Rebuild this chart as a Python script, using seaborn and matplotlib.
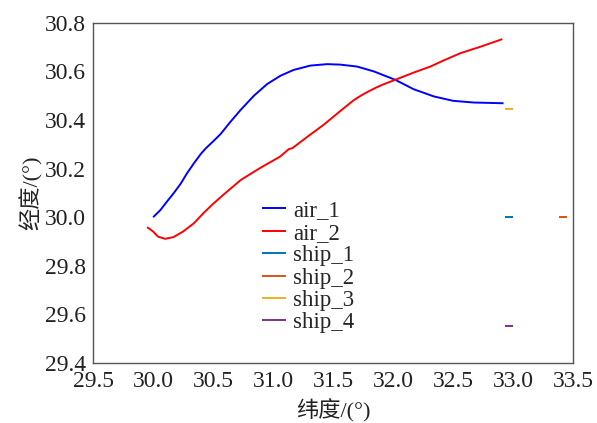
import numpy as np
import pandas as pd
import matplotlib
matplotlib.use('Agg')
import matplotlib.pyplot as plt
import seaborn as sns

# ---- data ----
air1_lat = [30.00, 30.06, 30.11, 30.17, 30.23, 30.28, 30.34, 30.40, 30.44, 30.50,
            30.56, 30.64, 30.73, 30.84, 30.95, 31.06, 31.17, 31.31, 31.45, 31.56,
            31.70, 31.84, 32.02, 32.17, 32.34, 32.50, 32.67, 32.92]
air1_lon = [30.000, 30.029, 30.061, 30.098, 30.138, 30.179, 30.222, 30.262, 30.284, 30.312,
            30.341, 30.390, 30.442, 30.500, 30.548, 30.582, 30.606, 30.624, 30.630, 30.628,
            30.620, 30.600, 30.565, 30.527, 30.497, 30.479, 30.472, 30.469]

air2_lat = [29.95, 30.00, 30.04, 30.10, 30.17, 30.25, 30.34, 30.42, 30.50, 30.58,
            30.73, 30.89, 31.06, 31.13, 31.16, 31.28, 31.42, 31.56, 31.67, 31.74,
            31.80, 31.86, 31.92, 32.02, 32.17, 32.31, 32.42, 32.56, 32.73, 32.91]
air2_lon = [29.959, 29.941, 29.920, 29.911, 29.918, 29.941, 29.975, 30.017, 30.055, 30.090,
            30.153, 30.202, 30.250, 30.280, 30.284, 30.329, 30.380, 30.437, 30.481, 30.503,
            30.519, 30.534, 30.547, 30.566, 30.595, 30.620, 30.645, 30.675, 30.702, 30.733]

ship1_lat = [32.93, 33.00]
ship1_lon = [30.00, 30.00]
ship2_lat = [33.38, 33.45]
ship2_lon = [30.00, 30.00]
ship3_lat = [32.93, 33.00]
ship3_lon = [30.446, 30.446]
ship4_lat = [32.93, 33.00]
ship4_lon = [29.553, 29.553]

names = ['air_1', 'air_2', 'ship_1', 'ship_2', 'ship_3', 'ship_4']
lats = [air1_lat, air2_lat, ship1_lat, ship2_lat, ship3_lat, ship4_lat]
lons = [air1_lon, air2_lon, ship1_lon, ship2_lon, ship3_lon, ship4_lon]
colors = ['#0000FF', '#FF0000', '#0072BD', '#D95319', '#EDB120', '#7E2F8E']

xticks = [29.5, 30.0, 30.5, 31.0, 31.5, 32.0, 32.5, 33.0, 33.5]
yticks = [29.4, 29.6, 29.8, 30.0, 30.2, 30.4, 30.6, 30.8]

# ---- style ----
sns.set_theme(style='white')
plt.rcParams['font.family'] = ['Liberation Serif', 'Noto Sans CJK SC']
plt.rcParams['axes.unicode_minus'] = False

fig = plt.figure(figsize=(5.97, 4.23), dpi=100)
ax = fig.add_axes([0.156, 0.142, 0.804, 0.804])

for name, x, y, c in zip(names, lats, lons, colors):
    df = pd.DataFrame({'lat': x, 'lon': y})
    sns.lineplot(data=df, x='lat', y='lon', sort=False, estimator=None,
                 color=c, linewidth=1.4, label=name, ax=ax,
                 solid_joinstyle='round', solid_capstyle='butt')

ax.set_xlim(29.5, 33.5)
ax.set_ylim(29.4, 30.8)
ax.set_xticks(xticks)
ax.set_yticks(yticks)
ax.set_xticklabels([f'{v:.1f}' for v in xticks])
ax.set_yticklabels([f'{v:.1f}' for v in yticks])
ax.tick_params(direction='in', length=4, width=0.8, color='#555555',
               labelsize=17, labelcolor='#222222', top=False, right=False)
ax.tick_params(axis='x', pad=6)
ax.tick_params(axis='y', pad=5)
for sp in ax.spines.values():
    sp.set_color('#555555')
    sp.set_linewidth(1.0)

ax.set_xlabel('纬度/(°)', fontsize=16, color='#222222', labelpad=5)
ax.set_ylabel('经度/(°)', fontsize=16, color='#222222', labelpad=2)

ax.legend(loc='upper left', bbox_to_anchor=(0.352, 0.478), frameon=False,
          fontsize=16.5, handlelength=1.05, handletextpad=0.3,
          labelspacing=0.06, borderaxespad=0, borderpad=0)

fig.savefig('out.png', dpi=100)
